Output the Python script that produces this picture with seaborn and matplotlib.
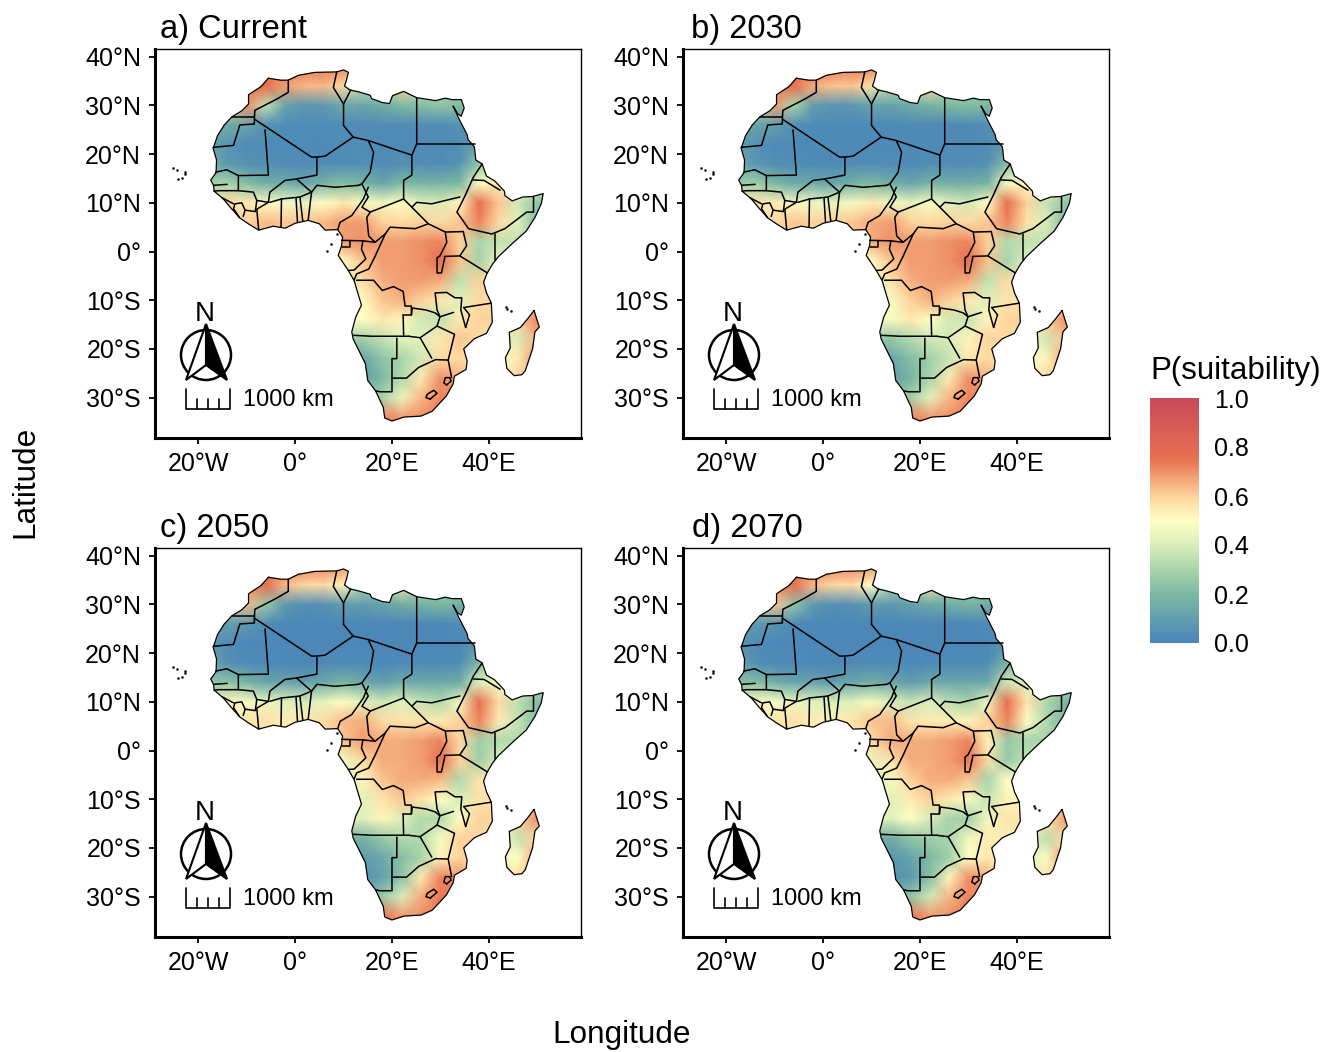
import numpy as np
import pandas as pd
import seaborn as sns
import matplotlib
matplotlib.use("Agg")
import matplotlib.pyplot as plt
from matplotlib.colors import LinearSegmentedColormap
from matplotlib.path import Path
from matplotlib.patches import Circle, Polygon
from matplotlib.transforms import Affine2D

sns.set_theme(style="ticks")
plt.rcParams["font.family"] = ["Liberation Sans", "DejaVu Sans"]

grid_lons = [-18,-14,-10,-6,-2,2,6,10,14,18,22,26,30,34,38,42,46,50,54]
grid_lats = [38,34,30,26,22,18,14,10,6,2,-2,-6,-10,-14,-18,-22,-26,-30,-34,-38]

current = [
[70,70,70,74,74,74,74,72,50,40,60,40,40,40,40,40,40,40,40],
[70,70,74,76,68,64,64,58,35,35,60,35,30,30,30,30,30,30,30],
[40,40,70,35,12,7,8,14,12,16,20,22,24,22,22,22,22,22,22],
[18,15,12,5,3,3,3,3,3,3,3,3,3,5,8,8,8,8,8],
[12,6,3,3,2,2,2,3,3,2,2,2,2,3,10,10,10,10,10],
[18,8,5,4,3,3,3,3,4,3,4,3,3,6,25,35,35,35,35],
[28,30,22,15,15,12,18,22,18,12,20,18,18,20,50,55,55,40,40],
[55,58,55,50,48,45,50,55,48,46,50,42,40,52,76,62,38,25,15],
[60,60,60,64,62,62,64,68,68,60,58,60,58,62,72,58,42,20,12],
[60,60,60,60,60,62,62,68,70,68,68,70,72,60,30,35,35,30,30],
[55,55,55,55,55,55,55,50,62,68,68,70,76,62,30,45,45,45,45],
[45,45,45,45,45,45,45,45,58,65,68,68,66,35,60,60,60,60,60],
[50,50,50,50,50,50,50,50,50,62,65,60,55,42,58,58,58,58,58],
[50,50,50,50,50,50,50,50,50,55,52,38,35,55,60,60,60,72,72],
[28,28,28,28,28,28,28,28,28,35,42,42,55,62,58,55,40,65,65],
[12,12,12,12,12,12,12,12,12,24,30,38,58,58,55,50,55,70,70],
[10,10,10,10,10,10,10,10,10,20,32,55,70,65,60,50,60,60,60],
[25,25,25,25,25,25,25,25,25,30,45,64,72,72,72,60,60,60,60],
[72,72,72,72,72,72,72,72,72,72,68,70,72,72,72,60,60,60,60],
[72,72,72,72,72,72,72,72,72,72,68,70,72,72,72,60,60,60,60],
]
y2030 = [
[70,70,70,74,74,74,74,72,50,40,60,40,40,40,40,40,40,40,40],
[70,70,72,76,66,62,62,56,32,32,58,32,28,28,28,28,28,28,28],
[38,38,68,30,10,6,7,12,11,15,18,20,22,20,20,20,20,20,20],
[15,12,10,4,2,2,2,2,2,2,2,2,2,4,6,6,6,6,6],
[10,5,2,2,2,2,2,2,2,2,2,2,2,2,8,8,8,8,8],
[16,7,4,3,2,2,3,3,3,2,3,3,3,5,22,32,32,32,32],
[26,28,20,14,14,12,17,20,16,12,18,16,16,18,48,52,52,38,38],
[54,56,54,48,46,44,48,54,46,44,48,42,38,50,76,60,36,25,15],
[58,58,58,62,60,60,62,66,68,60,58,60,58,62,72,56,40,20,12],
[58,58,58,58,58,60,60,66,70,68,68,70,72,60,32,35,35,30,30],
[52,52,52,52,52,52,52,50,62,68,68,70,76,62,30,42,42,42,42],
[45,45,45,45,45,45,45,45,56,65,68,68,66,35,58,58,58,58,58],
[48,48,48,48,48,48,48,48,48,60,65,60,55,42,56,56,56,56,56],
[48,48,48,48,48,48,48,48,48,55,50,38,36,52,60,60,60,70,70],
[25,25,25,25,25,25,25,25,25,32,38,40,52,60,58,52,38,62,62],
[12,12,12,12,12,12,12,12,12,22,28,36,55,58,55,48,52,68,68],
[10,10,10,10,10,10,10,10,10,18,30,55,70,65,60,48,58,58,58],
[22,22,22,22,22,22,22,22,22,28,42,64,72,72,72,60,60,60,60],
[72,72,72,72,72,72,72,72,72,72,68,70,72,72,72,60,60,60,60],
[72,72,72,72,72,72,72,72,72,72,68,70,72,72,72,60,60,60,60],
]
y2050 = [
[70,70,70,74,74,74,72,70,50,40,58,40,40,40,40,40,40,40,40],
[68,68,70,76,64,58,58,52,30,30,56,30,26,26,26,26,26,26,26],
[34,34,64,26,8,4,5,10,9,12,16,18,20,18,18,18,18,18,18],
[12,10,8,3,1,1,1,1,1,1,1,1,1,3,5,5,5,5,5],
[8,3,1,1,1,1,1,1,1,1,1,1,1,1,6,6,6,6,6],
[14,5,2,2,1,1,2,2,2,1,2,2,2,3,20,30,30,30,30],
[24,24,18,12,12,10,14,18,14,10,15,14,14,15,42,46,46,35,35],
[50,52,48,44,42,40,44,50,42,38,42,36,32,46,76,58,34,22,15],
[56,56,56,57,54,54,58,64,66,58,56,56,54,60,72,54,36,20,12],
[54,54,54,54,54,56,56,62,68,66,66,68,72,58,28,32,32,28,28],
[48,48,48,48,48,48,48,46,58,66,66,68,76,60,28,40,40,40,40],
[40,40,40,40,40,40,40,40,52,62,66,66,64,32,56,56,56,56,56],
[42,42,42,42,42,42,42,42,42,56,62,56,50,40,56,56,56,56,56],
[42,42,42,42,42,42,42,42,42,52,42,32,32,50,60,60,60,70,70],
[18,18,18,18,18,18,18,18,18,26,32,32,48,60,60,50,36,60,60],
[8,8,8,8,8,8,8,8,8,14,22,30,52,60,56,46,50,68,68],
[6,6,6,6,6,6,6,6,6,10,24,55,72,68,62,48,58,58,58],
[20,20,20,20,20,20,20,20,20,26,40,66,74,74,74,60,60,60,60],
[74,74,74,74,74,74,74,74,74,74,68,70,74,74,74,60,60,60,60],
[74,74,74,74,74,74,74,74,74,74,68,70,74,74,74,60,60,60,60],
]
y2070 = [
[70,70,70,74,74,74,72,70,50,40,58,40,40,40,40,40,40,40,40],
[68,68,70,76,64,58,58,50,30,30,56,30,26,26,26,26,26,26,26],
[32,32,62,24,8,4,5,9,8,11,14,16,18,16,16,16,16,16,16],
[10,8,6,2,1,1,1,1,1,1,1,1,1,2,4,4,4,4,4],
[6,3,1,1,1,1,1,1,1,1,1,1,1,1,5,5,5,5,5],
[12,4,2,2,1,1,2,2,2,1,2,2,2,3,18,28,28,28,28],
[22,22,16,11,11,9,13,16,13,9,14,13,13,14,38,42,42,32,32],
[48,52,48,44,42,40,42,48,40,36,40,34,30,44,76,56,32,20,12],
[56,56,56,57,54,52,56,62,64,56,54,54,52,60,72,50,32,18,10],
[54,54,54,54,54,56,56,58,66,66,66,68,72,52,26,30,30,26,26],
[48,48,48,48,48,48,48,44,56,66,66,68,74,58,26,36,36,36,36],
[40,40,40,40,40,40,40,40,48,60,66,66,62,30,50,50,50,50,50],
[42,42,42,42,42,42,42,42,42,54,60,54,48,36,52,52,52,52,52],
[42,42,42,42,42,42,42,42,42,50,40,30,28,46,56,56,56,68,68],
[16,16,16,16,16,16,16,16,16,24,28,30,46,54,54,46,34,58,58],
[6,6,6,6,6,6,6,6,6,12,20,28,50,55,52,42,48,70,70],
[5,5,5,5,5,5,5,5,5,8,22,52,70,65,58,44,56,56,56],
[18,18,18,18,18,18,18,18,18,24,38,64,72,72,72,60,60,60,60],
[74,74,74,74,74,74,74,74,74,74,68,70,74,74,74,60,60,60,60],
[74,74,74,74,74,74,74,74,74,74,68,70,74,74,74,60,60,60,60],
]
panel_grids = [current, y2030, y2050, y2070]
panel_titles = ["a) Current", "b) 2030", "c) 2050", "d) 2070"]

coast = [(-5.5,35.6),(-3,35.2),(-1.4,35.2),(0.7,36.2),(4.1,36.8),(8.6,36.9),(10,37.3),(11,36.8),(10.6,35.2),(10.2,34),(11.3,33.2),
(13.1,32.8),(15.5,32.1),(15.8,31.4),(18,30.6),(19.5,30.4),(20.1,32),(22.4,32.9),(25.1,31.6),(29,31),(31,31.5),(32.4,31.2),(34.3,31.2),
(34.9,29.5),(34.3,27.8),(33.6,28.2),(32.6,29.9),(33.7,27.5),(35.5,24),(35.7,23),(37,21.5),(37.3,18.8),(38.6,18),(39.5,15.5),(41.2,14.5),(43.2,12.4),
(43.3,11.5),(44.8,10.4),(47,11.2),(49,11.3),(51.2,11.9),(50.8,9.8),(49.5,7),(47.7,4.2),(45,1.8),(42,-1),(40.8,-2.5),(39.6,-4.5),(38.9,-6.3),(39.5,-8.5),(40.5,-10.6),
(40.7,-14.5),(39.5,-16.8),(37,-17.9),(34.8,-20),(35.5,-22.5),(35.3,-24.2),(32.9,-25.6),(32.6,-27.2),(31.2,-29.7),(28.3,-32.8),(26,-33.8),(22.5,-34),(20,-34.8),
(18.5,-34.2),(18.2,-32),(16.6,-28.6),(15,-26.5),(14.5,-23),(12,-18),(11.7,-16.5),(12.5,-13.5),(13.7,-11),(13,-8.7),(12.2,-6),(11,-3.9),(8.9,-0.8),(9.6,1.2),(9.8,3),(8.8,4.5),
(6.2,4.4),(5,5.7),(2.7,6.4),(0,5.8),(-2,4.8),(-4.5,5.2),(-7.5,4.4),(-9.5,5.6),(-11.4,6.9),(-13.2,8.9),(-14.8,10.8),(-16.7,12.4),(-16.8,13.5),(-17.4,14.7),(-16.3,16.2),
(-16.2,18.8),(-16.9,21.2),(-16,23.8),(-14.6,26),(-13,27.7),(-11,28.9),(-9.6,30.3),(-9.6,32.2),(-7,33.9)]
madagascar = [(49.3,-12.1),(50.4,-15.5),(49.5,-16.5),(49,-20),(47.5,-24.5),(46.8,-25.3),(45.2,-25.5),(43.7,-24),(43.4,-21.8),(44.4,-19.8),(44.2,-16.6),(46.5,-15.6),(48,-13.8)]

borders = [
[(-1.4,35.2),(-1.4,32.7),(-3.8,31.3),(-8.3,29),(-8.4,27.2),(-8.4,26.2),(-11.4,26),(-12.7,21.8),(-16.9,21.4)],
[(-13,27.7),(-8.4,27.7)],
[(-8.4,27.2),(3.4,19.4),(4.5,19.4),(6.2,19.6),(12,23.5),(10,25.9),(10,30.3),(7.9,33.7),(8.6,36.9)],
[(10,30.3),(11.5,33.2)],
[(-6.2,25),(-5.5,15.7),(-11.7,15.6),(-14.1,16.8),(-16.4,16.3)],
[(-11.7,15.6),(-11.7,12.5),(-15.8,12.5),(-16.7,12.4)],
[(-16.8,13.6),(-14,13.8)],
[(4.5,19.4),(4.5,15.7),(0.3,14.9),(-2.1,14.6),(-5.2,12.2),(-5.5,10.1),(-7.9,10.5),(-8.6,12.2),(-11.7,12.5)],
[(0.3,14.9),(3.4,12.2),(1,11.2),(-2.8,10.8),(-5.2,10.1)],
[(3.4,12.2),(4.5,13.6),(8.3,13.2),(13.1,13.6),(13.8,13.9)],
[(12,23.5),(15.1,22.8),(16.2,20.4),(15.5,16.3),(13.8,13.9),(15.1,11.2),(13.8,9.1),(15.5,8.1),(22.4,10.8)],
[(15.1,22.8),(24.1,19.8),(24.1,15.7),(22.4,14.6),(22.4,12.2),(22.4,10.8),(24.1,9.1),(27.5,5.7),(31,4),(34.7,4.1)],
[(25.1,31.6),(25.1,22.1),(24.1,19.8)],
[(25.1,22.1),(37.2,22.1)],
[(38.6,18),(36.8,15.3),(35.1,11.5),(33.4,8.1),(35.8,4.7),(40.6,3.6),(43.3,4.7),(47.8,8.1),(49.2,8.1),(49.2,11.2)],
[(24.1,9.1),(25.1,10.1),(28.2,9.8),(32.3,10.8),(34,11.2)],
[(36.8,14.7),(39,14.6),(42.3,12.6)],
[(41.3,3.6),(41.3,-1.8)],
[(34.7,4.1),(35.4,1.2),(34,-0.9),(39.7,-4.4)],
[(31,4),(31.3,1.9),(29.9,-0.9),(29.3,-1.3),(29.3,-4.4),(30.2,-4.4),(30.9,-1.2)],
[(34,-0.9),(30.8,-1)],
[(15.5,8.1),(14.8,7),(15.2,3.2),(16.5,1.9),(18.6,3.6),(19.6,5),(24.8,4.7),(27.5,5.7)],
[(15.1,13.2),(14.1,10.8),(11.7,7.4),(9.3,6),(8.8,4.5)],
[(2.7,6.4),(3.4,12.2)],
[(1.6,6.2),(1,11.2)],
[(0.5,6),(0.2,11)],
[(-2.9,5),(-2.8,10.8)],
[(-7.5,4.4),(-7.9,8.7),(-5.5,10.1)],
[(-11.5,7),(-12.7,8.8),(-12.4,9.8),(-11,10),(-10.3,8.5),(-10.7,7.2)],
[(-15,11),(-12.7,9.8)],
[(-7.9,10.5),(-8.2,8.2),(-10.3,8.5)],
[(9.6,2.3),(14,2.2),(16.5,1.9)],
[(9.6,1),(11.4,1),(11.4,2.2)],
[(14,2.2),(13.7,0.5),(14.6,-1.5),(12.2,-3.8),(11,-3.9)],
[(18.6,3.6),(16.5,-1),(15.2,-3.6),(12.7,-4.6),(12.2,-5.8)],
[(12.7,-5.9),(16.2,-5.9),(18,-8),(20.3,-7.2),(22.3,-8.2),(22.7,-11.2),(24,-11.2),(24,-13)],
[(11.9,-17.2),(15.8,-17.4),(23.4,-17.4)],
[(22.3,-13),(22.4,-17.4)],
[(22.3,-13),(24,-13)],
[(24,-13),(24.2,-11.6),(27,-12),(28.9,-12.6),(29.9,-13.4),(29.3,-12),(28.9,-8.5),(31.3,-8.4),(33,-9.5),(34.4,-9.5),(34.2,-12),(35.2,-15.6)],
[(23.4,-17.4),(25.8,-17.7),(29.3,-15.3),(29.9,-13.4),(32.7,-12.5)],
[(35.2,-15.6),(36,-13),(34.8,-11.5)],
[(34.8,-11.5),(40.5,-10.6)],
[(21,-17.8),(21,-22),(20,-22),(20,-28.8),(17.5,-28.8),(16.6,-28.6)],
[(20,-26),(23,-26),(25.5,-23.8),(29,-22.2),(31.6,-22.3)],
[(25.8,-17.7),(28.2,-21.9)],
[(29.3,-15.3),(32.9,-17),(31.6,-22.3),(32.3,-25.9)],
[(31.3,-27.4),(32.2,-26.6),(31.9,-25.9),(31,-25.9),(30.7,-27),(31.3,-27.4)],
[(27.9,-30.3),(29.3,-29.1),(28.6,-28.5),(27.3,-29.3),(27,-30),(27.9,-30.3)],
]

island_lons = [-25.2,-24.4,-22.7,-22.7,-24.2,-23.3,8.7,7.4,6.6,43.5,43.7,44.5]
island_lats = [17.2,16.7,16.3,15.9,14.9,15.1,3.5,1.6,0.2,-11.4,-11.8,-12.2]

legend_ticks = [0.0, 0.2, 0.4, 0.6, 0.8, 1.0]
lat_ticks = [40,30,20,10,0,-10,-20,-30]
lon_ticks = [-20,0,20,40]
def fmt_lat(v): return "0°" if v == 0 else f"{abs(v)}°{'N' if v > 0 else 'S'}"
def fmt_lon(v): return "0°" if v == 0 else f"{abs(v)}°{'E' if v > 0 else 'W'}"

cmap = LinearSegmentedColormap.from_list("suit", [(0,"#4A85B9"),(0.2,"#7DB9A1"),(0.3,"#A9D5AB"),(0.4,"#DAEDB9"),(0.5,"#FFFFC4"),(0.6,"#FDD29B"),(0.75,"#E8714F"),(1,"#C84A5A")])

W, H = 1340, 1052
fig = plt.figure(figsize=(W/100, H/100), dpi=100, facecolor="white")
boxes = [(155,49),(683,49),(155,548),(683,548)]
title_offsets = [5, 8, 5, 9]
PW, PH = 426, 389
XLIM, YLIM = (-28.9,59.0), (-38.3,41.6)

land = Path.make_compound_path(Path(coast+[coast[0]], closed=True), Path(madagascar+[madagascar[0]], closed=True))
dlon = grid_lons[1]-grid_lons[0]; dlat = grid_lats[1]-grid_lats[0]

last = None
for (px,py),grid,title,toff in zip(boxes,panel_grids,panel_titles,title_offsets):
    ax = fig.add_axes([px/W, 1-(py+PH)/H, PW/W, PH/H])
    df = pd.DataFrame(np.array(grid)/100, index=grid_lats, columns=grid_lons)
    sns.heatmap(df, ax=ax, cmap=cmap, vmin=0, vmax=1, cbar=False, xticklabels=False, yticklabels=False, shading="gouraud")
    mesh = ax.collections[0]
    mesh.set_transform(Affine2D().scale(dlon,dlat).translate(grid_lons[0],grid_lats[0]) + ax.transData)
    mesh.set_clip_path(land, ax.transData)
    last = mesh
    for poly in (coast, madagascar):
        a = np.array(poly+[poly[0]])
        ax.plot(a[:,0], a[:,1], color="black", lw=0.9, solid_joinstyle="round")
    for b in borders:
        a = np.array(b)
        ax.plot(a[:,0], a[:,1], color="black", lw=1.1, solid_joinstyle="round")
    sns.scatterplot(x=island_lons, y=island_lats, ax=ax, s=2.5, color="black", edgecolor="black", linewidth=0.2, legend=False)
    ax.set_xlim(XLIM); ax.set_ylim(YLIM)
    ax.set_xticks(lon_ticks); ax.set_xticklabels([fmt_lon(v) for v in lon_ticks])
    ax.set_yticks(lat_ticks); ax.set_yticklabels([fmt_lat(v) for v in lat_ticks])
    ax.tick_params(axis="x", labelsize=18, length=4, width=1.3, color="black", labelcolor="black", pad=6, bottom=True)
    ax.tick_params(axis="y", labelsize=18, length=4, width=1.3, color="black", labelcolor="black", pad=6, left=True)
    ax.set_xlabel(""); ax.set_ylabel("")
    for s in ax.spines.values():
        s.set_visible(True); s.set_color("black"); s.set_linewidth(1.0)
    ax.spines["left"].set_linewidth(2.2); ax.spines["bottom"].set_linewidth(2.2)
    ax.text(toff/PW, 1.01, title, transform=ax.transAxes, fontsize=23.5, ha="left", va="bottom", color="black")

    # north arrow and scale bar, placed in panel pixels
    tf = Affine2D().scale(1/PW, 1/PH) + ax.transAxes
    def P(x, y): return (x, PH-y)
    ax.add_patch(Circle(P(51,306), 25, transform=tf, fc="white", ec="black", lw=1.8, zorder=5))
    ax.add_patch(Polygon([P(51,275),P(31,331),P(51,316)], closed=True, transform=tf, fc="white", ec="black", lw=1.5, zorder=6))
    ax.add_patch(Polygon([P(51,275),P(72,331),P(51,316)], closed=True, transform=tf, fc="black", ec="black", lw=1.5, zorder=6))
    ax.text(*P(50,265), "N", transform=tf, fontsize=20, ha="center", va="center", color="black", zorder=6)
    ax.plot([31,75], [PH-360,PH-360], color="black", lw=1.2, transform=tf, solid_capstyle="butt", zorder=6)
    for x,h in zip([31,42,53,64,75],[20,10,10,10,20]):
        ax.plot([x,x], [PH-360,PH-360+h], color="black", lw=1.2, transform=tf, zorder=6)
    ax.text(*P(88,351), "1000 km", transform=tf, fontsize=17, ha="left", va="center", color="black", zorder=6)

cax = fig.add_axes([1150/W, 1-643/H, 49/W, 245/H])
cb = fig.colorbar(last, cax=cax)
cb.outline.set_visible(False)
cb.set_ticks(legend_ticks); cb.set_ticklabels([f"{v:.1f}" for v in legend_ticks])
cb.ax.tick_params(length=0, labelsize=18, pad=11, labelcolor="black")
fig.text(1150/W, 1-371/H, "P(suitability)", fontsize=22.5, ha="left", va="center", color="black")
fig.text(25/W, 1-482/H, "Latitude", fontsize=22.7, rotation=90, ha="center", va="center", color="black")
fig.text(622/W, 1-1035/H, "Longitude", fontsize=22.7, ha="center", va="center", color="black")

fig.savefig("out.png", dpi=100)
